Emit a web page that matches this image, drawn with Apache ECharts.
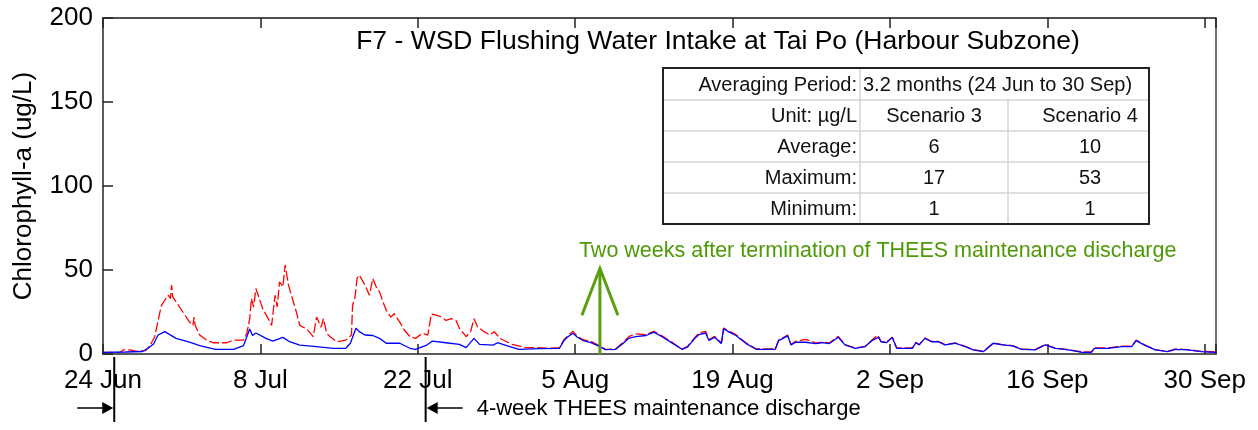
<!DOCTYPE html>
<html>
<head>
<meta charset="utf-8">
<script src="https://cdn.jsdelivr.net/npm/echarts@6/dist/echarts.min.js"></script>
<style>
  html, body { margin: 0; padding: 0; background: #fff; }
  #chart { width: 1258px; height: 430px; }
</style>
</head>
<body>
<div id="chart"></div>
<script>
// x values are days counted from 24 Jun
var xTickLabels = ['24 Jun', '8 Jul', '22 Jul', '5 Aug', '19 Aug', '2 Sep', '16 Sep', '30 Sep'];

// Scenario 3 (blue, solid)
var s3Days = [0, 2, 3.5, 4.0, 4.5, 4.9, 5.5, 6.5, 7.7, 8.6, 10, 11.6, 12.5, 13.05, 13.3, 13.6, 14.5, 15.1, 16.0, 16.6,
  17.5, 19, 20.5, 21.6, 22, 22.5, 22.8, 23.3, 24, 24.6, 25.2, 26.4, 27.3, 27.8, 28.8, 29.3, 30.5, 31.7, 32.3, 33.0,
  33.5, 34.7, 35.1, 35.9, 37, 38.8, 40.6, 41.0, 41.3, 41.8, 42.2, 42.7, 43.4, 44, 44.7, 45.6, 46.2, 46.8, 47.4, 48.3,
  49.0, 49.8, 50.7, 51.5, 52, 52.6, 53, 53.6, 53.9, 54.4, 55, 55.2, 55.7, 56.3, 57.2, 58.1, 59.8, 60.1, 60.9, 61.2,
  61.6, 62.5, 63.4, 64, 64.6, 65.4, 66, 66.9, 67.8, 68.4, 69, 69.2, 69.7, 70.2, 70.6, 72, 72.3, 72.6, 73.1, 73.7,
  74.3, 74.9, 75.8, 76.7, 77.4, 78.3, 79.2, 80, 80.9, 81.7, 82.9, 83.8, 84.7, 85.9, 87.1, 87.9, 88.2, 89.4, 90.6, 91.5,
  91.9, 92.6, 93.6, 94.7, 95.4, 96.5, 97.7, 99];
var s3Vals = [1, 1.2, 1.5, 3.4, 6, 11.3, 13.3, 9.3, 7, 5, 2.8, 2.8, 5, 14.9, 11, 12.5, 9.3, 7.7, 9.9, 7.3,
  5.3, 4.4, 3.4, 3.4, 6.4, 15.3, 13.3, 11.3, 11, 9.3, 6.4, 6.4, 3.4, 2.8, 5.3, 7.7, 6.7, 5.7, 3.8, 9.3,
  5.7, 5.3, 6.7, 5, 2.8, 3.2, 3.4, 8, 10, 12.3, 10, 8, 6.8, 5, 2.6, 2.8, 6, 9.5, 10.3, 11,
  13, 10, 6.2, 2.8, 4.2, 9, 11.5, 12.5, 8, 10, 6.2, 15, 13, 11, 6.2, 2.8, 2.8, 8, 10.8, 5.4,
  7, 7, 6.2, 6.8, 6.2, 10, 5.4, 3.4, 4.4, 8, 10, 7.3, 6.8, 9.9, 3.4, 3.4, 6.8, 5.4, 9.3, 7.3,
  7.3, 5.4, 6.4, 4.4, 2.4, 1.4, 6.4, 5.4, 4.8, 2.8, 2.4, 5.4, 3.4, 2.4, 1, 1, 3.4, 3.4, 4.4, 4.4,
  8, 5.4, 2.4, 1.4, 2.8, 2.4, 1.4, 1];

// Scenario 4 (red, dashed)
var s4Days = [0, 1.5, 1.8, 2.4, 3.0, 3.8, 4.2, 4.6, 5.0, 5.2, 5.5, 5.8, 6.0, 6.1, 6.2, 6.5, 7.1, 7.7, 8.0, 8.1,
  8.2, 8.6, 9.2, 9.8, 11, 11.6, 12.5, 12.8, 13.05, 13.2, 13.4, 13.6, 13.9, 14.2, 14.7, 15.0, 15.3, 15.5, 15.7, 16.0,
  16.2, 16.5, 16.8, 17.2, 17.5, 18.1, 18.7, 19.0, 19.4, 19.6, 19.9, 20.2, 20.8, 21.6, 22.1, 22.2, 22.4, 22.6, 22.8, 23.3,
  23.7, 24.0, 24.3, 24.6, 24.9, 25.2, 25.6, 25.9, 26.4, 26.8, 27.3, 27.8, 28.4, 28.9, 29.2, 29.6, 30.1, 30.5, 31.0, 31.4,
  31.7, 32.3, 32.7, 33.0, 33.3, 33.9, 34.4, 34.8, 35.3, 35.9, 36.4, 37.5, 39.7, 40.6, 41.0, 41.3, 41.8, 42.2, 42.7, 43.4,
  44, 44.7, 45.6, 46.2, 46.8, 47.4, 48.3, 49.0, 49.8, 50.7, 51.5, 52, 52.6, 53, 53.6, 53.9, 54.4, 55, 55.2, 55.7,
  56.3, 57.2, 58.1, 59.8, 60.1, 60.9, 61.2, 61.6, 62.5, 63.4, 64, 64.6, 65.4, 66, 66.9, 67.8, 68.4, 68.9, 69.2, 69.7,
  70.2, 70.6, 72, 72.3, 72.6, 73.1, 73.7, 74.3, 74.9, 75.8, 76.7, 77.4, 78.3, 79.2, 80, 80.9, 81.7, 82.9, 83.8, 84.7,
  85.9, 87.1, 87.9, 88.2, 89.4, 90.6, 91.5, 91.9, 92.6, 93.6, 94.7, 95.4, 96.5, 97.7, 99];
var s4Vals = [1, 1, 2.4, 2.4, 1.6, 2, 5.3, 10.3, 23, 29, 32, 35, 33, 41, 34, 31, 25, 19, 17, 22,
  17, 11.3, 8.3, 6.7, 6.7, 8.3, 8.3, 12.5, 21, 33, 28, 39, 33, 27, 21, 17, 35, 28, 43, 40,
  53, 41, 34, 25, 17, 15, 10.3, 22, 16, 21, 12.3, 10.3, 7.3, 8.3, 11.3, 29, 33, 45, 47, 41,
  35, 45, 40, 37, 31, 26, 22, 24, 19, 14.3, 10.3, 9.3, 12.3, 11.3, 23.7, 23.3, 22, 20, 21, 20,
  15.3, 10.3, 13.3, 21, 16.3, 13.3, 11.3, 13.3, 9.3, 7.3, 5.7, 4, 3.5, 3.8, 8.5, 10.5, 13.5, 10.5, 8.5, 7.5,
  5.4, 2.8, 3, 6.6, 10.5, 12, 11.5, 13.5, 10.5, 6.6, 2.8, 4.6, 9.5, 12.5, 13.5, 8.5, 10.5, 6.6, 15.5, 13.5,
  11.5, 6.6, 3, 3, 8.3, 11.3, 5.6, 7.5, 8.7, 6.6, 7, 6.6, 10.5, 5.6, 3.6, 4.6, 8.3, 11.3, 7.5, 7,
  10, 3.6, 3.6, 7, 5.6, 9.5, 7.5, 7.5, 5.6, 6.6, 4.6, 2.6, 1.6, 6.6, 5.6, 5, 3, 2.6, 5.6, 3.6,
  2.6, 1.2, 1.2, 3.6, 3.6, 4.6, 4.6, 8.3, 5.6, 2.6, 1.6, 3, 2.6, 1.6, 1.2];

// summary table
var periodLabel = 'Averaging Period:';
var periodText = '3.2 months (24 Jun to 30 Sep)';
var tableHeader = ['Unit: µg/L', 'Scenario 3', 'Scenario 4'];
var statLabels = ['Average:', 'Maximum:', 'Minimum:'];
var scen3Stats = [6, 17, 1];
var scen4Stats = [10, 53, 1];

// discharge period (days from 24 Jun) and marker two weeks after it
var dischargeStart = 1;
var dischargeEnd = 28.7;
var twoWeeksAfter = 44.2;

var FONT = '"Liberation Sans", Arial, sans-serif';

function pairs(xs, ys) {
	var out = [];
	for (var i = 0; i < xs.length; i++) {
		out.push([xs[i], ys[i]]);
	}
	return out;
}

var myChart = echarts.init(document.getElementById('chart'));

var option = {
	animation: false,
	backgroundColor: '#fff',
	textStyle: { fontFamily: FONT },
	grid: { left: 103, right: 42, top: 18, bottom: 76, show: true, borderColor: '#444', borderWidth: 1.5, backgroundColor: 'transparent' },
	xAxis: [
		{
			type: 'value', min: 0, max: 99, interval: 14,
			axisLine: { show: true, lineStyle: { color: '#555', width: 1.5 } },
			axisTick: { show: true, inside: true, length: 10, lineStyle: { color: '#222', width: 1.5 } },
			axisLabel: {
				margin: 14, fontSize: 26, color: '#000', fontFamily: FONT,
				formatter: function(v) {
					if (v % 14 !== 0) return '';
					return xTickLabels[v / 14] || '';
				}
			},
			splitLine: { show: false }
		},
		{
			// same day scale along the top frame (ticks only)
			type: 'value', position: 'top', min: 0, max: 99, interval: 14,
			axisLine: { show: true, lineStyle: { color: '#444', width: 1.5 } },
			axisTick: { show: true, inside: true, length: 10, lineStyle: { color: '#222', width: 1.5 } },
			axisLabel: { show: false },
			splitLine: { show: false }
		}
	],
	yAxis: {
		type: 'value', min: 0, max: 200, interval: 50,
		name: 'Chlorophyll-a (ug/L)', nameLocation: 'middle', nameGap: 66, nameRotate: 90,
		nameTextStyle: { fontSize: 26, color: '#000', fontFamily: FONT },
		axisLine: { show: true, lineStyle: { color: '#555', width: 1.5 } },
		axisTick: { show: true, inside: true, length: 10, lineStyle: { color: '#222', width: 1.5 } },
		axisLabel: { margin: 10, fontSize: 26, color: '#000', fontFamily: FONT },
		splitLine: { show: false }
	},
	series: [
		{
			name: 'Scenario 4', type: 'line', showSymbol: false, symbol: 'none',
			xAxisIndex: 0,
			data: pairs(s4Days, s4Vals),
			lineStyle: { color: '#ff0000', width: 1.3, type: [10, 3] },
			z: 2
		},
		{
			name: 'Scenario 3', type: 'line', showSymbol: false, symbol: 'none',
			xAxisIndex: 1,
			data: pairs(s3Days, s3Vals),
			lineStyle: { color: '#0000ff', width: 1.3 },
			z: 3
		}
	]
};
myChart.setOption(option);

// annotations: title, table, discharge arrows, green marker
function buildGraphics() {
	var g = [];
	var yAxisBottom = myChart.convertToPixel({ yAxisIndex: 0 }, 0);
	var xs = myChart.convertToPixel({ xAxisIndex: 0 }, dischargeStart);
	var xe = myChart.convertToPixel({ xAxisIndex: 0 }, dischargeEnd);
	var xg = myChart.convertToPixel({ xAxisIndex: 0 }, twoWeeksAfter);
	var yTip = myChart.convertToPixel({ yAxisIndex: 0 }, 51);

	g.push({
		type: 'text', x: 718, y: 42,
		style: { text: 'F7 - WSD Flushing Water Intake at Tai Po (Harbour Subzone)', font: '26.5px ' + FONT, fill: '#000', align: 'center', verticalAlign: 'middle' }
	});

	// table
	var tx0 = 663, tx1 = 860, tx2 = 1008, tx3 = 1149;
	var rows = [68, 100, 131, 162, 193, 224];
	var tFont = '20px ' + FONT;
	g.push({ type: 'rect', shape: { x: tx0, y: rows[0], width: tx3 - tx0, height: rows[5] - rows[0] }, style: { fill: '#fff', stroke: null }, z: 10 });
	for (var r = 1; r < 5; r++) {
		g.push({ type: 'line', shape: { x1: tx0, y1: rows[r], x2: tx3, y2: rows[r] }, style: { stroke: '#d4d4d4', lineWidth: 1.5 }, z: 11 });
	}
	g.push({ type: 'line', shape: { x1: tx1, y1: rows[0], x2: tx1, y2: rows[5] }, style: { stroke: '#d4d4d4', lineWidth: 1.5 }, z: 11 });
	g.push({ type: 'line', shape: { x1: tx2, y1: rows[1], x2: tx2, y2: rows[5] }, style: { stroke: '#d4d4d4', lineWidth: 1.5 }, z: 11 });
	g.push({ type: 'rect', shape: { x: tx0, y: rows[0], width: tx3 - tx0, height: rows[5] - rows[0] }, style: { fill: null, stroke: '#222', lineWidth: 2 }, z: 12 });

	function cell(text, x, r, align) {
		g.push({ type: 'text', x: x, y: (rows[r] + rows[r + 1]) / 2 + 1, z: 13,
			style: { text: String(text), font: tFont, fill: '#111', align: align, verticalAlign: 'middle' } });
	}
	cell(periodLabel, tx1 - 3, 0, 'right');
	cell(periodText, tx1 + 3, 0, 'left');
	cell(tableHeader[0], tx1 - 3, 1, 'right');
	cell(tableHeader[1], 934, 1, 'center');
	cell(tableHeader[2], 1090, 1, 'center');
	for (var i = 0; i < statLabels.length; i++) {
		cell(statLabels[i], tx1 - 3, i + 2, 'right');
		cell(scen3Stats[i], 934, i + 2, 'center');
		cell(scen4Stats[i], 1090, i + 2, 'center');
	}

	// discharge period markers below the axis
	var ay = 408;
	g.push({ type: 'line', shape: { x1: xs, y1: 357, x2: xs, y2: 422 }, style: { stroke: '#000', lineWidth: 2 } });
	g.push({ type: 'line', shape: { x1: xs - 37, y1: ay, x2: xs - 10, y2: ay }, style: { stroke: '#000', lineWidth: 1.5 } });
	g.push({ type: 'polygon', shape: { points: [[xs - 12, ay - 6], [xs - 1, ay], [xs - 12, ay + 6]] }, style: { fill: '#000' } });
	g.push({ type: 'line', shape: { x1: xe, y1: 357, x2: xe, y2: 422 }, style: { stroke: '#000', lineWidth: 2 } });
	g.push({ type: 'polygon', shape: { points: [[xe + 1, ay], [xe + 12, ay - 6], [xe + 12, ay + 6]] }, style: { fill: '#000' } });
	g.push({ type: 'line', shape: { x1: xe + 10, y1: ay, x2: xe + 37, y2: ay }, style: { stroke: '#000', lineWidth: 1.5 } });
	g.push({ type: 'text', x: xe + 51, y: ay + 1,
		style: { text: '4-week THEES maintenance discharge', font: '22px ' + FONT, fill: '#000', align: 'left', verticalAlign: 'middle' } });

	// green arrow two weeks after the discharge
	var green = '#5a9e0e';
	g.push({ type: 'line', shape: { x1: xg, y1: yAxisBottom, x2: xg, y2: yTip }, style: { stroke: green, lineWidth: 3 }, z: 5 });
	g.push({ type: 'polyline', shape: { points: [[xg - 18, yTip + 47], [xg, yTip], [xg + 18, yTip + 47]] }, style: { stroke: green, lineWidth: 3, fill: null }, z: 5 });
	g.push({ type: 'text', x: xg - 21, y: 251, z: 5,
		style: { text: 'Two weeks after termination of THEES maintenance discharge', font: '21.5px ' + FONT, fill: '#4e9a06', align: 'left', verticalAlign: 'middle' } });

	myChart.setOption({ graphic: { elements: g } });
}
buildGraphics();
</script>
</body>
</html>
